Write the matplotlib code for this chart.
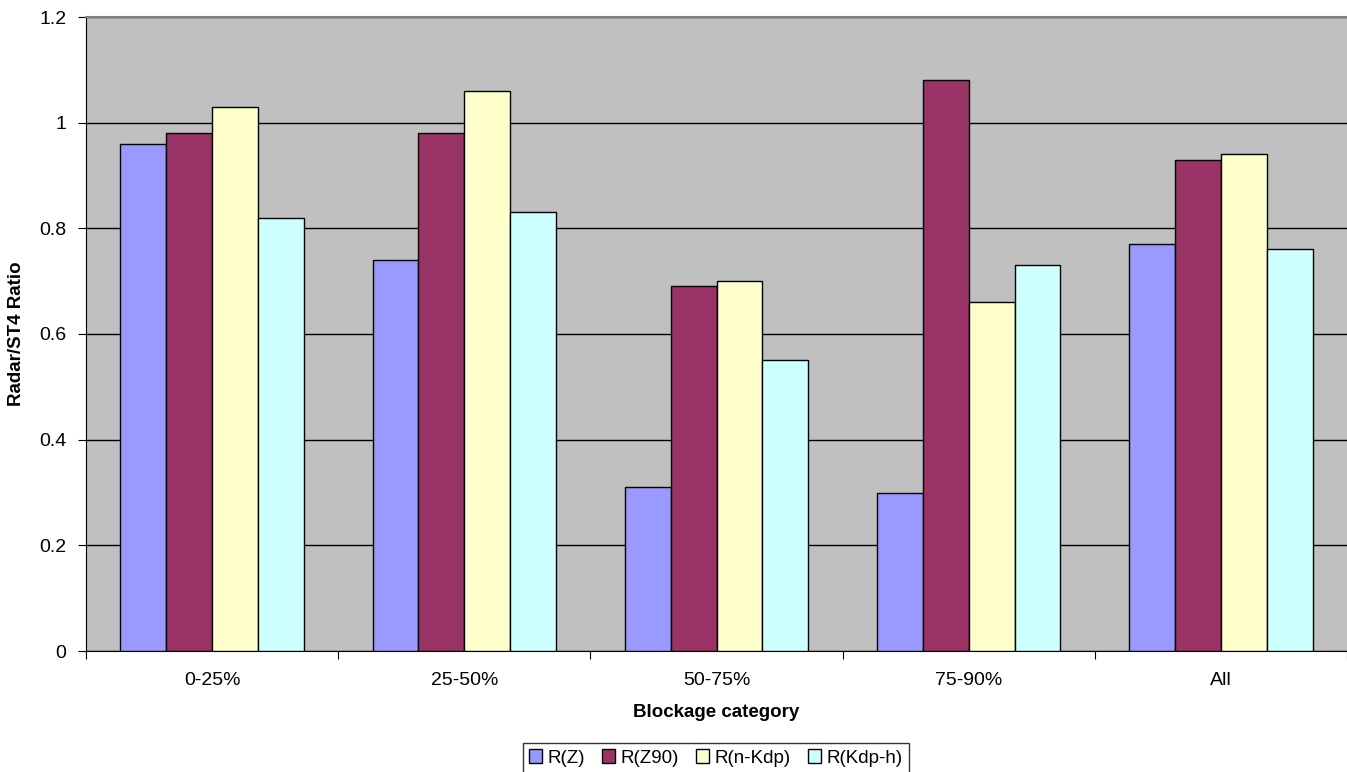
import numpy as np
import matplotlib.pyplot as plt

plt.rcParams['font.family'] = ['Liberation Sans', 'DejaVu Sans']

categories = ['0-25%', '25-50%', '50-75%', '75-90%', 'All']
series_names = ['R(Z)', 'R(Z90)', 'R(n-Kdp)', 'R(Kdp-h)']
r_z = [0.96, 0.74, 0.31, 0.30, 0.77]
r_z90 = [0.98, 0.98, 0.69, 1.08, 0.93]
r_nkdp = [1.03, 1.06, 0.70, 0.66, 0.94]
r_kdph = [0.82, 0.83, 0.55, 0.73, 0.76]
colors = ['#9999FF', '#993366', '#FFFFCC', '#CCFFFF']

fig = plt.figure(figsize=(13.47, 7.72), dpi=100)
ax = fig.add_axes([86 / 1347, 1 - 651 / 772, 1 - 86 / 1347, (651 - 17) / 772])
ax.set_facecolor('#C0C0C0')

x = np.arange(len(categories))
w = 1 / 5.5
for i, (vals, name) in enumerate(zip([r_z, r_z90, r_nkdp, r_kdph], series_names)):
    ax.bar(x + (i - 1.5) * w, vals, width=w, color=colors[i], edgecolor='black',
           linewidth=1, label=name, zorder=3)

ax.set_xlim(-0.5, len(categories) - 0.5)
ax.set_ylim(0, 1.2)
ax.set_yticks(np.arange(0, 1.21, 0.2))
ax.set_yticklabels(['0', '0.2', '0.4', '0.6', '0.8', '1', '1.2'])
ax.yaxis.grid(True, color='black', linewidth=1, zorder=1)
ax.set_axisbelow(True)

ax.set_xticks(np.arange(-0.5, len(categories), 1))
ax.set_xticklabels([])
ax.set_xticks(x, minor=True)
ax.set_xticklabels(categories, minor=True)
ax.tick_params(axis='x', which='minor', length=0, pad=15, labelsize=14)
ax.tick_params(axis='x', which='major', length=6, direction='out')
ax.tick_params(axis='y', length=6, direction='out', labelsize=14, pad=8)

ax.spines['right'].set_visible(False)
ax.spines['top'].set_color('#808080')
ax.spines['top'].set_linewidth(1.5)

ax.set_xlabel('Blockage category', fontsize=13.5, fontweight='bold', labelpad=11)
ax.set_ylabel('Radar/ST4 Ratio', fontsize=13.5, fontweight='bold', labelpad=10)

leg = ax.legend(loc='center', bbox_to_anchor=(716 / 1347, 1 - 758 / 772),
                bbox_transform=fig.transFigure, ncol=4, frameon=True,
                fancybox=False, edgecolor='black', fontsize=13.5,
                handlelength=0.7, handleheight=0.7, handletextpad=0.3,
                columnspacing=0.9, borderpad=0.35)
leg.get_frame().set_linewidth(1)

fig.savefig('out.png', dpi=100)
